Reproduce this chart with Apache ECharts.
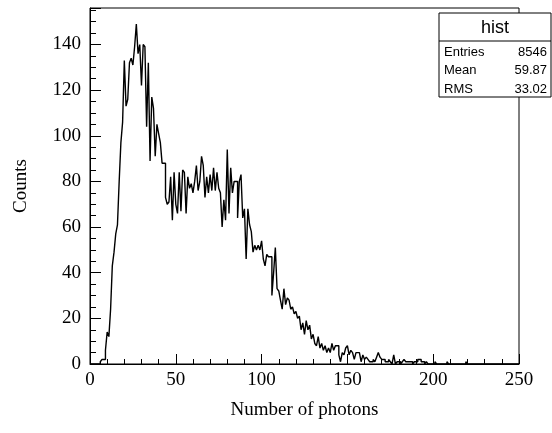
<!DOCTYPE html>
<html>
<head>
<meta charset="utf-8">
<script src="https://cdn.jsdelivr.net/npm/echarts@6/dist/echarts.min.js"></script>
<style>
  html, body { margin: 0; padding: 0; background: #fff; }
  #chart { width: 552px; height: 433px; }
</style>
</head>
<body>
<div id="chart"></div>
<script>
// histogram "hist": 250 bins of width 1 from 0 to 250
const xMin = 0;
const xMax = 250;
const binWidth = 1;
const yMax = 156;

const counts = [
  0, 0, 0, 0, 0, 0, 1, 2, 2, 6,
  14, 12, 24, 43, 49, 57, 61, 80, 97, 106,
  133, 113, 116, 132, 134, 131, 139, 149, 136, 140,
  122, 140, 139, 104, 132, 89, 117, 112, 91, 105,
  101, 97, 88, 88, 73, 70, 71, 82, 63, 84,
  70, 66, 84, 67, 85, 84, 66, 82, 77, 79,
  75, 80, 87, 76, 80, 91, 87, 73, 82, 75,
  83, 76, 86, 76, 84, 77, 75, 60, 72, 63,
  94, 66, 86, 75, 80, 80, 64, 80, 83, 64,
  68, 46, 68, 61, 58, 49, 52, 50, 52, 50,
  54, 46, 43, 48, 47, 47, 30, 40, 51, 33,
  32, 28, 24, 33, 26, 29, 28, 24, 25, 22,
  23, 20, 21, 15, 18, 13, 19, 15, 17, 11,
  13, 9, 8, 12, 7, 9, 6, 8, 5, 7,
  5, 9, 6, 8, 8, 4, 1, 5, 4, 7,
  8, 4, 6, 5, 2, 5, 5, 5, 1, 4,
  2, 3, 2, 1, 1, 2, 1, 3, 5, 3,
  2, 2, 1, 1, 2, 1, 0, 4, 0, 1,
  1, 0, 1, 2, 1, 1, 1, 1, 0, 1,
  1, 2, 2, 1, 1, 0, 1, 0, 0, 0,
  0, 1, 0, 0, 0, 0, 0, 0, 1, 0,
  0, 0, 0, 0, 0, 0, 0, 0, 0, 1,
  0, 0, 0, 0, 0, 0, 0, 0, 0, 0,
  0, 0, 0, 0, 0, 0, 0, 0, 0, 0,
  0, 0, 0, 0, 0, 0, 0, 0, 0, 0
];

const statTitle = "hist";
const statLabels = ["Entries", "Mean", "RMS"];
const statValues = ["8546", "59.87", "33.02"];

const xTitle = "Number of photons";
const yTitle = "Counts";

// outline of the histogram: top of every bin from low edge to high edge
const stepData = [];
counts.forEach((c, i) => {
  const lo = xMin + i * binWidth;
  stepData.push([lo, c]);
  stepData.push([lo + binWidth, c]);
});

const serif = "'Liberation Serif', 'DejaVu Serif', serif";
const sans = "'Liberation Sans', Arial, sans-serif";

// stats box
const box = { x: 439, y: 13, w: 112, h: 84, head: 28 };
const statGraphics = [
  {
    type: "rect",
    shape: { x: box.x, y: box.y, width: box.w, height: box.h },
    style: { fill: "#fff", stroke: "#000", lineWidth: 1 },
    z: 10
  },
  {
    type: "line",
    shape: { x1: box.x, y1: box.y + box.head, x2: box.x + box.w, y2: box.y + box.head },
    style: { stroke: "#000", lineWidth: 1 },
    z: 11
  },
  {
    type: "text",
    x: box.x + box.w / 2,
    y: box.y + box.head / 2 + 1,
    style: { text: statTitle, font: "18px " + sans, fill: "#000", align: "center", verticalAlign: "middle" },
    z: 11
  }
];
statLabels.forEach((lab, i) => {
  const ry = box.y + box.head + 11 + i * 18.5;
  statGraphics.push({
    type: "text",
    x: box.x + 5,
    y: ry,
    style: { text: lab, font: "13px " + sans, fill: "#000", align: "left", verticalAlign: "middle" },
    z: 11
  });
  statGraphics.push({
    type: "text",
    x: box.x + box.w - 4,
    y: ry,
    style: { text: statValues[i], font: "13px " + sans, fill: "#000", align: "right", verticalAlign: "middle" },
    z: 11
  });
});

const chart = echarts.init(document.getElementById("chart"), null, { renderer: "canvas" });

chart.setOption({
  animation: false,
  backgroundColor: "#fff",
  grid: {
    left: 90,
    right: 33,
    top: 8,
    bottom: 69,
    show: true,
    borderColor: "#000",
    borderWidth: 1,
    backgroundColor: "transparent"
  },
  xAxis: {
    type: "value",
    min: xMin,
    max: xMax,
    interval: 50,
    name: xTitle,
    nameLocation: "middle",
    nameGap: 37,
    nameTextStyle: { fontFamily: serif, fontSize: 19, color: "#000" },
    axisLine: { show: true, onZero: false, lineStyle: { color: "#000", width: 1 } },
    axisTick: { show: true, inside: true, length: 10, lineStyle: { color: "#000" } },
    minorTick: { show: true, splitNumber: 5, length: 5, lineStyle: { color: "#000" } },
    axisLabel: { fontFamily: serif, fontSize: 19, color: "#000", margin: 7 },
    splitLine: { show: false },
    minorSplitLine: { show: false }
  },
  yAxis: {
    type: "value",
    min: 0,
    max: yMax,
    interval: 20,
    name: yTitle,
    nameLocation: "middle",
    nameGap: 59,
    nameTextStyle: { fontFamily: serif, fontSize: 19, color: "#000" },
    axisLine: { show: true, onZero: false, lineStyle: { color: "#000", width: 1 } },
    axisTick: { show: true, inside: true, length: 11, lineStyle: { color: "#000" } },
    minorTick: { show: true, splitNumber: 4, length: 6, lineStyle: { color: "#000" } },
    axisLabel: {
      fontFamily: serif, fontSize: 19, color: "#000", margin: 9,
      showMaxLabel: false,
      formatter: (v) => (v % 20 === 0 ? String(v) : "")
    },
    splitLine: { show: false },
    minorSplitLine: { show: false }
  },
  series: [
    {
      name: statTitle,
      type: "line",
      data: stepData,
      showSymbol: false,
      symbol: "none",
      lineStyle: { color: "#000", width: 1.4 },
      clip: true
    }
  ],
  graphic: statGraphics
});
</script>
</body>
</html>
